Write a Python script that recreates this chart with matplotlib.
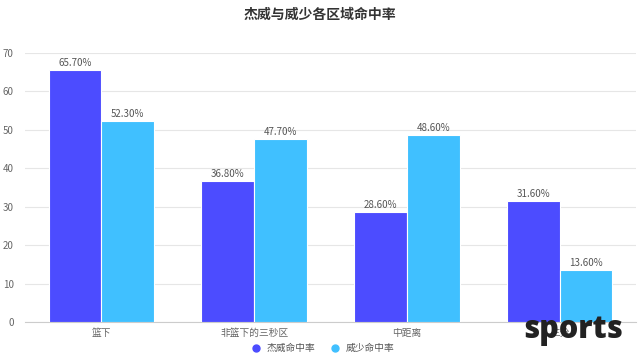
import matplotlib
matplotlib.use("Agg")
import matplotlib.pyplot as plt
import numpy as np
from matplotlib.lines import Line2D

plt.rcParams['font.family'] = ['Noto Sans CJK SC', 'DejaVu Sans']

# data
categories = ["篮下", "非篮下的三秒区", "中距离", "三分"]
series_names = ["杰威命中率", "威少命中率"]
pg_values = [65.7, 36.8, 28.6, 31.6]
rw_values = [52.3, 47.7, 48.6, 13.6]
colors = ["#4c4cff", "#40c0ff"]

fig = plt.figure(figsize=(6.4, 3.58), dpi=100)
ax = fig.add_axes([0.039, 0.1006, 0.955, 0.7514])

x = np.arange(len(categories))
w = 0.345
for i, (vals, c) in enumerate(zip([pg_values, rw_values], colors)):
    pos = x + (i - 0.5) * w
    bars = ax.bar(pos, vals, width=w, color=c, edgecolor="white", linewidth=0.8, zorder=3)
    for b, v in zip(bars, vals):
        ax.text(b.get_x() + b.get_width() / 2, v + 0.5, "%.2f%%" % v,
                ha="center", va="bottom", fontsize=7, color="#555555")

ax.set_xlim(-0.5, len(categories) - 0.5)
ax.set_ylim(0, 70)
ax.set_yticks(range(0, 71, 10))
ax.set_xticks(x)
ax.set_xticklabels(categories)
ax.tick_params(axis="both", length=0, labelsize=7, colors="#666666")
ax.tick_params(axis="x", pad=4)
ax.tick_params(axis="y", pad=8)
ax.grid(axis="y", color="#e6e6e6", linewidth=0.8, zorder=0)
for s in ["top", "right", "left"]:
    ax.spines[s].set_visible(False)
ax.spines["bottom"].set_color("#cccccc")

fig.text(0.5, 0.958, "杰威与威少各区域命中率", ha="center", va="center",
         fontsize=10, fontweight="bold", color="#333333")

handles = [Line2D([], [], marker="o", linestyle="", color=c, markersize=5) for c in colors]
fig.legend(handles, series_names, loc="center", bbox_to_anchor=(0.5, 0.028),
           ncol=2, frameon=False, fontsize=7, handletextpad=0.1, columnspacing=1.0,
           labelcolor="#555555")

fig.text(0.895, 0.078, "sports", ha="center", va="center", fontsize=22,
         fontweight="heavy", color="#222222", family="Open Sans")

fig.savefig("out.png", dpi=100)
